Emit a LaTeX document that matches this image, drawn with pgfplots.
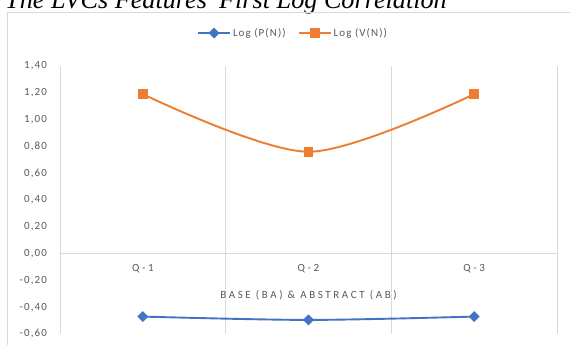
\documentclass[border=0pt]{standalone}
\usepackage{pgfplots}
\pgfplotsset{compat=1.18}
\usepackage{fontspec}
\setmainfont{Carlito}
\newfontfamily\lab[LetterSpace=10]{Carlito}
\newfontfamily\labw[LetterSpace=24]{Carlito}
\newfontfamily\titlefont{Liberation Serif}
\definecolor{gridgray}{HTML}{D9D9D9}
\definecolor{txtgray}{HTML}{595959}
\definecolor{xblue}{HTML}{4472C4}
\definecolor{xorange}{HTML}{ED7D31}
\begin{document}
\begin{tikzpicture}
\path[use as bounding box, clip] (0,0) rectangle (570bp,345bp);
\fill[white] (0,0) rectangle (570bp,345bp);
\node[anchor=base west, inner sep=0pt, font=\titlefont\fontsize{26.3}{30}\selectfont\itshape] at (5bp,336bp) {The LVCs Features' First Log Correlation};
\draw[gridgray, line width=0.8bp] (7bp,-5bp) -- (7bp,332.5bp) -- (580bp,332.5bp);
\begin{axis}[
  at={(60bp,11bp)}, anchor=south west,
  scale only axis, width=497bp, height=268bp,
  xmin=0.5, xmax=3.5, ymin=-0.6, ymax=1.4,
  axis x line=middle, axis y line=left,
  axis line style={-, draw=gridgray, line width=0.8bp},
  x axis line style={-}, y axis line style={-},
  xtick={1,2,3}, xticklabels={Q-1,Q-2,Q-3},
  minor xtick={1.5,2.5,3.5}, xminorgrids,
  minor grid style={gridgray, line width=0.8bp},
  minor tick length=0pt,
  major tick length=0pt,
  ytick={-0.6,-0.4,-0.2,0,0.2,0.4,0.6,0.8,1.0,1.2,1.4},
  /pgf/number format/.cd, fixed, fixed zerofill, precision=2, use comma, assume math mode=true,
  /pgfplots/.cd,
  yticklabel style={font=\lab\fontsize{11}{13}\selectfont, text=txtgray, anchor=east, inner sep=0pt, xshift=-13bp},
  xticklabel style={font=\labw\fontsize{11}{13}\selectfont, text=txtgray, anchor=north, inner sep=0pt, yshift=-11bp},
  xlabel={BASE (BA) \& ABSTRACT (AB)},
  xlabel style={font=\labw\fontsize{11}{13}\selectfont, text=txtgray, at={(axis description cs:0.5,0.1455)}, anchor=center, inner sep=0pt},
  legend columns=2,
  legend style={at={(axis description cs:0.469,1.123)}, anchor=center, draw=none, fill=none,
    font=\lab\fontsize{11}{13}\selectfont, text=txtgray,
    /tikz/every even column/.append style={column sep=10bp}},
  legend image code/.code={\draw[mark repeat=2, mark phase=2] plot coordinates {(0bp,0bp) (16bp,0bp) (32bp,0bp)};},
  clip=false,
]
\addplot[xblue, line width=1.9bp, smooth, tension=0.5, mark=square*, mark size=2.9bp, mark options={rotate=45, solid, fill=xblue}]
  coordinates {(1,-0.47) (2,-0.495) (3,-0.47)};
\addlegendentry{Log (P(N))}
\addplot[xorange, line width=1.9bp, smooth, tension=0.5, mark=square*, mark size=4bp, mark options={solid, fill=xorange}]
  coordinates {(1,1.19) (2,0.76) (3,1.19)};
\addlegendentry{Log (V(N))}
\end{axis}
\end{tikzpicture}
\end{document}
